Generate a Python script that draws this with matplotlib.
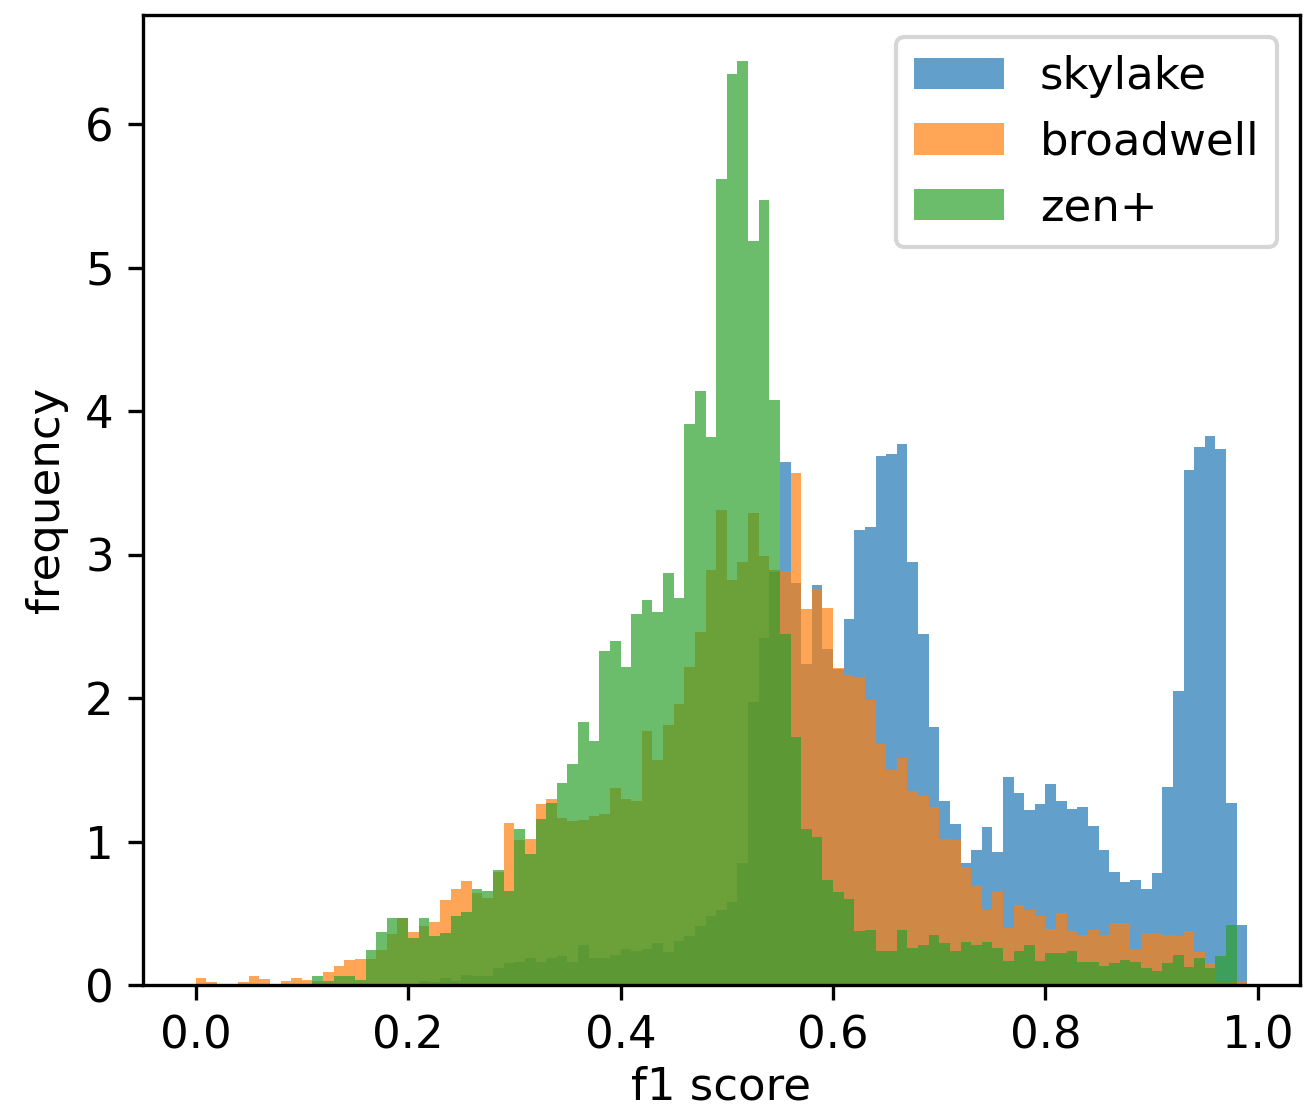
import numpy as np
import matplotlib.pyplot as plt

# bin edges: 0.00 .. 0.99 in steps of 0.01 (99 bins)
edges = np.arange(100) / 100

skylake = [
    0, 0, 0, 0, 0, 0, 0, 0, 0, 0,
    0, 0, 0, 0, 0, 0, 0, 0, 0, 0,
    0, 0.03, 0.02, 0.05, 0.03, 0.07, 0.06, 0.06, 0.12, 0.15,
    0.16, 0.19, 0.16, 0.19, 0.20, 0.16, 0.28, 0.19, 0.19, 0.21,
    0.25, 0.24, 0.25, 0.29, 0.23, 0.31, 0.34, 0.41, 0.48, 0.52,
    0.58, 0.85, 1.97, 2.42, 2.88, 3.645, 2.80, 2.24, 2.79, 2.34,
    2.20, 2.55, 3.17, 3.19, 3.69, 3.70, 3.77, 2.95, 2.45, 1.80,
    1.28, 1.12, 0.85, 0.94, 1.10, 0.93, 1.45, 1.34, 1.22, 1.26,
    1.40, 1.28, 1.23, 1.24, 1.11, 0.94, 0.79, 0.72, 0.73, 0.67,
    0.78, 1.38, 2.05, 3.59, 3.75, 3.83, 3.74, 1.27, 0.42,
]

broadwell = [
    0.05, 0.02, 0, 0, 0.02, 0.063, 0.04, 0, 0.03, 0.047,
    0.035, 0.03, 0.09, 0.133, 0.174, 0.184, 0.184, 0.244, 0.356, 0.465,
    0.372, 0.414, 0.442, 0.595, 0.667, 0.726, 0.644, 0.61, 0.785, 1.128,
    1.01, 1.016, 1.26, 1.30, 1.167, 1.14, 1.149, 1.18, 1.195, 1.372,
    1.295, 1.284, 1.772, 1.567, 1.81, 1.96, 2.22, 2.46, 2.89, 3.31,
    2.82, 2.95, 3.29, 2.99, 2.89, 2.885, 3.57, 2.62, 2.76, 2.63,
    2.21, 2.16, 2.15, 1.99, 1.68, 1.50, 1.58, 1.35, 1.32, 1.24,
    1.02, 1.01, 0.82, 0.69, 0.52, 0.65, 0.40, 0.56, 0.52, 0.48,
    0.39, 0.50, 0.38, 0.35, 0.386, 0.35, 0.43, 0.43, 0.25, 0.36,
    0.365, 0.35, 0.345, 0.38, 0.23, 0.15, 0.02, 0.02, 0.02,
]

zen = [
    0, 0, 0, 0, 0, 0, 0, 0, 0, 0,
    0, 0.065, 0.03, 0.065, 0.065, 0.035, 0.244, 0.372, 0.47, 0.465,
    0.326, 0.47, 0.342, 0.36, 0.48, 0.51, 0.672, 0.656, 0.80, 0.656,
    1.09, 0.91, 1.156, 1.267, 1.41, 1.544, 1.83, 1.70, 2.33, 2.395,
    2.22, 2.586, 2.684, 2.60, 2.87, 2.70, 3.91, 4.14, 3.82, 5.62,
    6.35, 6.44, 5.19, 5.47, 4.08, 2.45, 1.73, 1.09, 1.03, 0.73,
    0.65, 0.60, 0.376, 0.386, 0.24, 0.24, 0.386, 0.26, 0.28, 0.35,
    0.29, 0.24, 0.30, 0.28, 0.30, 0.26, 0.165, 0.24, 0.28, 0.165,
    0.226, 0.226, 0.24, 0.157, 0.157, 0.13, 0.15, 0.175, 0.16, 0.117,
    0.10, 0.15, 0.21, 0.124, 0.19, 0.12, 0.20, 0.42, 0,
]

series = [("skylake", skylake), ("broadwell", broadwell), ("zen+", zen)]

plt.rcParams["font.size"] = 10.8

fig = plt.figure(figsize=(1307 / 300, 1111 / 300), dpi=300)
ax = fig.add_axes([0.1094, 0.1134, 0.8852, 0.8731])

for name, heights in series:
    ax.hist(edges[:-1], bins=edges, weights=heights, alpha=0.7, label=name)

ax.set_xlabel("f1 score", labelpad=2)
ax.set_ylabel("frequency")
ax.legend(loc="upper right")

fig.savefig("out.png", dpi=300)
